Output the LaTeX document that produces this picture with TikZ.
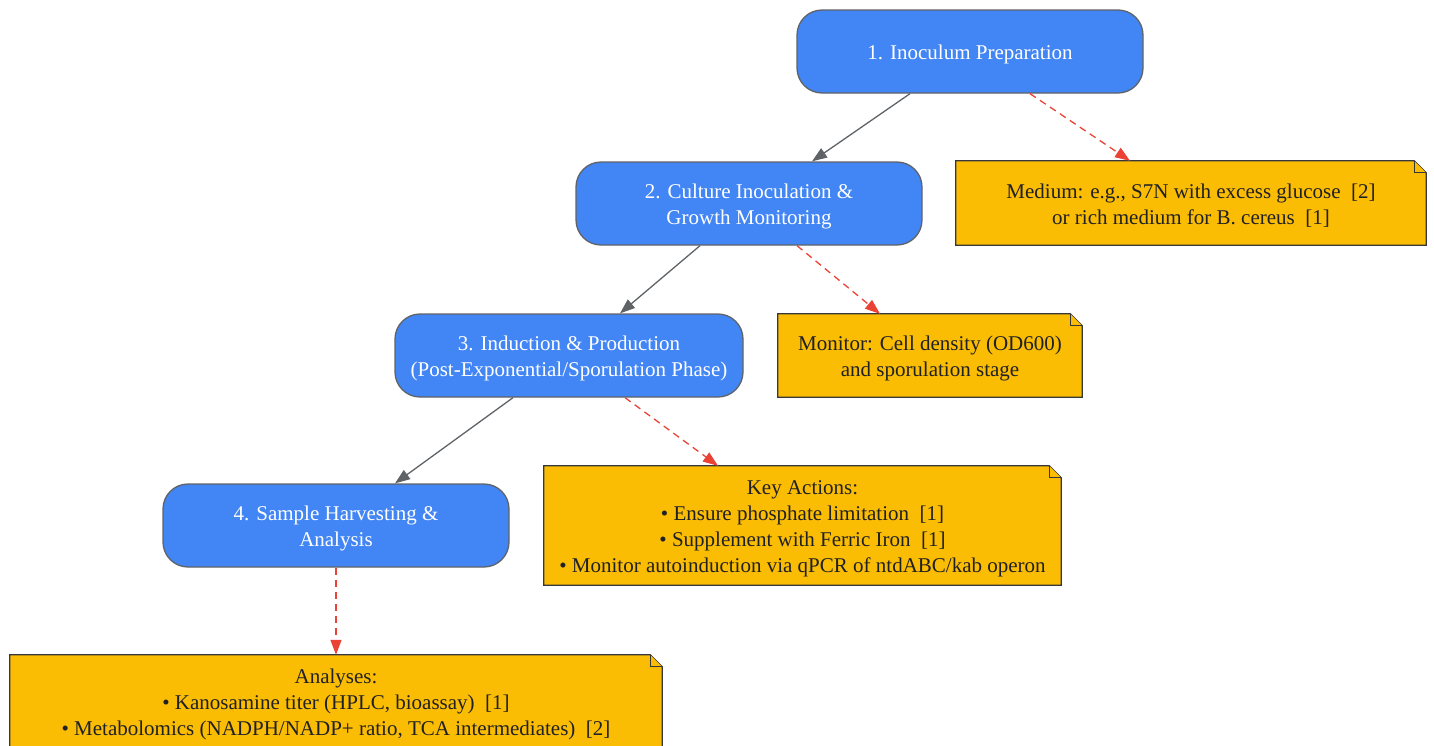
\documentclass[tikz,border=0pt]{standalone}
\usepackage{fontspec}
\setmainfont{Liberation Serif}
\usetikzlibrary{arrows.meta}
\definecolor{gblue}{HTML}{4285F4}
\definecolor{gyellow}{HTML}{FBBC04}
\definecolor{ggray}{HTML}{5F6368}
\definecolor{gred}{HTML}{EA4335}
\definecolor{gtext}{HTML}{202124}
\tikzset{
  stepnode/.style={rectangle, rounded corners=25pt, fill=gblue, draw=ggray, line width=1.3pt,
    inner sep=0pt},
  steptext/.style={text=white, align=center, inner sep=0pt, font=\fontsize{21}{26}\selectfont},
  notenode/.style={rectangle, fill=none, draw=none, inner sep=0pt},
  notetext/.style={text=gtext, align=center, inner sep=0pt, font=\fontsize{21}{26}\selectfont},
  flow/.style={draw=ggray, line width=1.3pt, -{Triangle[length=15pt,width=11pt]}},
  hint/.style={draw=gred, line width=1.3pt, dash pattern=on 7pt off 5pt,
    -{Triangle[length=15pt,width=11pt]}},
  noteline/.style={fill=gyellow, draw=gtext!90, line width=1.3pt, line join=miter}
}
\newcommand{\notebox}[1]{%
  \filldraw[noteline] (#1.south west) -- (#1.north west) -- ([xshift=-12pt]#1.north east)
    -- ([yshift=-12pt]#1.north east) -- (#1.south east) -- cycle;
  \draw[noteline] ([xshift=-12pt]#1.north east) -- ([xshift=-12pt,yshift=-12pt]#1.north east)
    -- ([yshift=-12pt]#1.north east);
}
\begin{document}
\begin{tikzpicture}[x=1pt,y=-1pt]
\useasboundingbox (0,0) rectangle (1434,745);
\clip (0,0) rectangle (1434,745);
% step nodes
\node[stepnode, minimum width=346pt, minimum height=83pt] (n1) at (970,51.5) {};
\node[stepnode, minimum width=346pt, minimum height=83pt] (n2) at (749,203.5) {};
\node[stepnode, minimum width=348pt, minimum height=83pt] (n3) at (569,355.5) {};
\node[stepnode, minimum width=346pt, minimum height=83pt] (n4) at (336,525.5) {};
\node[steptext] (s1) at ([yshift=-3pt]n1.center) {1. Inoculum Preparation};
\node[steptext] (s2) at ([yshift=-3pt]n2.center) {2. Culture Inoculation \&\\Growth Monitoring};
\node[steptext] (s3) at ([yshift=-3pt]n3.center) {3. Induction \& Production\\(Post-Exponential/Sporulation Phase)};
\node[steptext] (s4) at ([yshift=-3pt]n4.center) {4. Sample Harvesting \&\\Analysis};
% notes (shapes)
\node[notenode, minimum width=470pt, minimum height=84pt] (m1) at (1191,203) {};
\node[notenode, minimum width=304pt, minimum height=83pt] (m2) at (930,355.5) {};
\node[notenode, minimum width=517pt, minimum height=119pt] (m3) at (802.5,525.5) {};
\node[notenode, minimum width=652pt, minimum height=92pt] (m4) at (336,701) {};
\notebox{m1}
\notebox{m2}
\notebox{m3}
\notebox{m4}
\node[notetext] (t1) at ([yshift=-3pt]m1.center) {Medium: e.g., S7N with excess glucose~~[2]\\or rich medium for B. cereus~~[1]};
\node[notetext] (t2) at ([yshift=-3pt]m2.center) {Monitor: Cell density (OD600)\\and sporulation stage};
\node[notetext] (t3) at ([yshift=-3pt]m3.center) {Key Actions:\\• Ensure phosphate limitation~~[1]\\• Supplement with Ferric Iron~~[1]\\• Monitor autoinduction via qPCR of ntdABC/kab operon};
\node[notetext] (t4) at ([yshift=-3pt]m4.center) {Analyses:\\• Kanosamine titer (HPLC, bioassay)~~[1]\\• Metabolomics (NADPH/NADP+ ratio, TCA intermediates)~~[2]};
% connectors
\draw[flow] ([xshift=-60pt]n1.south) -- ([xshift=63pt]n2.north);
\draw[hint] ([xshift=60pt]n1.south) -- ([xshift=-61pt]m1.north);
\draw[flow] ([xshift=-49pt]n2.south) -- ([xshift=51pt]n3.north);
\draw[hint] ([xshift=48pt]n2.south) -- ([xshift=-50pt]m2.north);
\draw[flow] ([xshift=-56pt]n3.south) -- ([xshift=59pt]n4.north);
\draw[hint] ([xshift=56pt]n3.south) -- ([xshift=-84.5pt]m3.north);
\draw[hint] (n4.south) -- (m4.north);
\end{tikzpicture}
\end{document}
